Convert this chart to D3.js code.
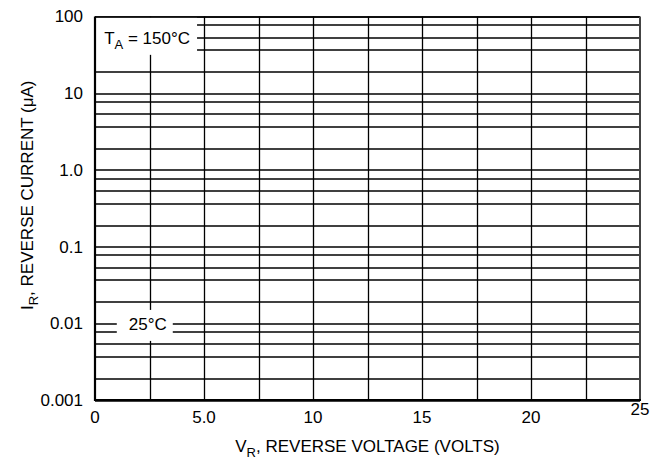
<!DOCTYPE html>
<html lang="en">
	<head>
		<meta charset="UTF-8">
		<title>Reverse Current</title>
		<style>
			body{margin:0;background:#fff;}
			svg{font-family:"Liberation Sans",Arial,sans-serif;font-size:17px;}
			.grid line{stroke:#000;stroke-width:1.3;}
		</style>
	</head>
	<body>
	<script type="text/javascript" src="https://cdn.jsdelivr.net/npm/d3@7/dist/d3.min.js"></script>
	<script type="text/javascript">
		// x axis ticks (volts) and their labels
		var xTicks = [0,5,10,15,20,25];
		var xTickLabels = ["0","5.0","10","15","20","25"];
		// vertical grid every 2.5 V
		var xGrid = [2.5,5,7.5,10,12.5,15,17.5,20,22.5];
		// decades on the y axis (uA)
		var yTicks = [0.001,0.01,0.1,1,10,100];
		var yTickLabels = ["0.001","0.01","0.1","1.0","10","100"];
		// minor grid lines inside each decade
		var minorSteps = [1.9,3.7,5.4,7.8];
		// curve labels
		var curveLabels = [
			{main:"T",sub:"A",rest:" = 150°C",v:0.42,y:44},
			{main:"25°C",sub:"",rest:"",v:1.55,y:0.0082}
		];

		var margin = {"top":16.5,"right":23,"bottom":66,"left":95},
			width = 663-margin.left-margin.right,
			height = 466-margin.top-margin.bottom;

		var x = d3.scaleLinear().domain([0,25]).range([0,width]);
		var y = d3.scaleLog().domain([0.001,100]).range([height,0]);

		var svg = d3.select("body")
					.append("svg")
					.attr("width",663)
					.attr("height",466)
					.append("g")
					.attr("transform","translate("+margin.left+","+margin.top+")");

		// horizontal grid: decades plus minor lines
		var hGrid = [];
		yTicks.forEach(function(t){
			hGrid.push(t);
			if(t<100){
				minorSteps.forEach(function(m){hGrid.push(t*m);});
			}
		});

		var grid = svg.append("g").attr("class","grid");
		grid.selectAll(".h")
			.data(hGrid)
			.enter().append("line")
			.attr("class","h")
			.attr("x1",0).attr("x2",width)
			.attr("y1",function(d){return Math.round(y(d))+0.5;})
			.attr("y2",function(d){return Math.round(y(d))+0.5;});
		grid.selectAll(".v")
			.data(xGrid)
			.enter().append("line")
			.attr("class","v")
			.attr("y1",0).attr("y2",height)
			.attr("x1",function(d){return Math.round(x(d))+0.5;})
			.attr("x2",function(d){return Math.round(x(d))+0.5;});

		// curve labels with white box behind
		var lab = svg.selectAll(".clabel")
			.data(curveLabels)
			.enter().append("g")
			.attr("class","clabel");
		lab.each(function(d,i){
			var g = d3.select(this);
			var rect = g.append("rect").attr("fill","#fff");
			var t = g.append("text")
				.attr("x",x(d.v))
				.attr("y",y(d.y));
			t.append("tspan").text(d.main);
			if(d.sub){
				t.append("tspan").attr("dy",5).attr("font-size","13px").text(d.sub);
				t.append("tspan").attr("dy",-5).text(d.rest);
			}
			var b = t.node().getBBox();
			if(i==0){
				// top-left corner box
				rect.attr("x",1).attr("y",1)
					.attr("width",b.x+b.width+6)
					.attr("height",b.y+b.height+2);
			}else{
				rect.attr("x",b.x-12).attr("y",b.y-5)
					.attr("width",b.width+18)
					.attr("height",b.height+12);
			}
		});

		// frame
		svg.append("line").attr("x1",0).attr("x2",width).attr("y1",0.5).attr("y2",0.5)
			.attr("stroke","#000").attr("stroke-width",1.3);
		svg.append("line").attr("x1",width).attr("x2",width).attr("y1",0).attr("y2",height)
			.attr("stroke","#444").attr("stroke-width",2);
		svg.append("line").attr("x1",0).attr("x2",0).attr("y1",0).attr("y2",height+1)
			.attr("stroke","#000").attr("stroke-width",2.2);
		svg.append("line").attr("x1",-1).attr("x2",width+1).attr("y1",height).attr("y2",height)
			.attr("stroke","#000").attr("stroke-width",2.2);

		// y tick labels
		svg.selectAll(".ylab")
			.data(yTicks)
			.enter().append("text")
			.attr("class","ylab")
			.attr("x",-12)
			.attr("y",function(d){return y(d);})
			.attr("dy","0.35em")
			.attr("text-anchor","end")
			.text(function(d,i){return yTickLabels[i];});

		// x tick labels, last one sits a bit higher
		svg.selectAll(".xlab")
			.data(xTicks)
			.enter().append("text")
			.attr("class","xlab")
			.attr("x",function(d){return x(d);})
			.attr("y",function(d,i){return i==xTicks.length-1 ? height+15 : height+23;})
			.attr("text-anchor","middle")
			.text(function(d,i){return xTickLabels[i];});

		// axis titles
		var xt = svg.append("text")
			.attr("x",width/2)
			.attr("y",height+52)
			.attr("text-anchor","middle");
		xt.append("tspan").text("V");
		xt.append("tspan").attr("dy",5).attr("font-size","13px").text("R");
		xt.append("tspan").attr("dy",-5).text(", REVERSE VOLTAGE (VOLTS)");

		var yt = svg.append("text")
			.attr("transform","translate("+(-62)+","+(height/2-13)+") rotate(-90)")
			.attr("text-anchor","middle");
		yt.append("tspan").text("I");
		yt.append("tspan").attr("dy",5).attr("font-size","13px").text("R");
		yt.append("tspan").attr("dy",-5).text(", REVERSE CURRENT (μA)");
	</script>
	</body>
</html>
